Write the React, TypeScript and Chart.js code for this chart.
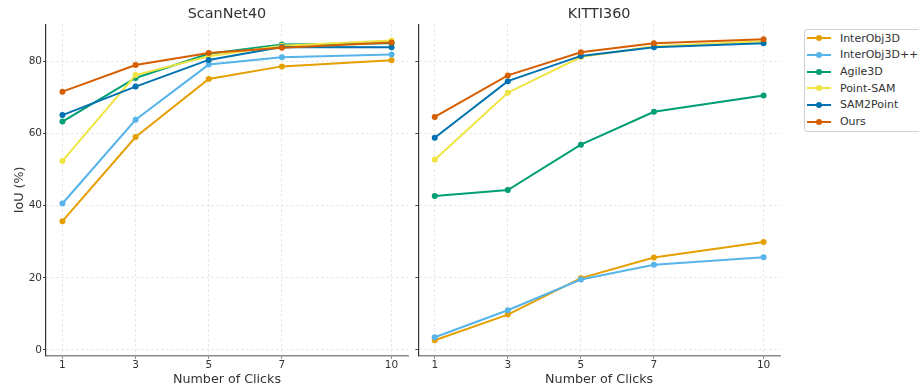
import React, { useEffect, useRef } from "react";
import { Chart, registerables } from "chart.js";

Chart.register(...registerables);

const FONT = "'DejaVu Sans', sans-serif";

const clicks = [1, 3, 5, 7, 10];
const yTickValues = [0, 20, 40, 60, 80];
const panelTitles = ["ScanNet40", "KITTI360"];
const seriesNames = ["InterObj3D", "InterObj3D++", "Agile3D", "Point-SAM", "SAM2Point", "Ours"];
const seriesColors = ["#E69F00", "#56B4E9", "#009E73", "#F0E442", "#0072B2", "#D55E00"];

// ScanNet40
const scanInterObj3D = [35.7, 59.0, 75.1, 78.6, 80.3];
const scanInterObj3DPP = [40.6, 63.8, 79.1, 81.1, 81.9];
const scanAgile3D = [63.3, 75.4, 82.1, 84.7, 85.0];
const scanPointSAM = [52.4, 76.2, 81.4, 84.3, 85.8];
const scanSAM2Point = [65.1, 73.0, 80.4, 84.0, 83.9];
const scanOurs = [71.6, 79.0, 82.3, 83.8, 85.2];

// KITTI360
const kittiInterObj3D = [2.7, 9.8, 19.9, 25.6, 29.9];
const kittiInterObj3DPP = [3.5, 11.0, 19.5, 23.6, 25.7];
const kittiAgile3D = [42.7, 44.3, 56.9, 66.0, 70.5];
const kittiPointSAM = [52.7, 71.3, 81.2, 84.2, 85.6];
const kittiSAM2Point = [58.8, 74.5, 81.5, 83.9, 85.0];
const kittiOurs = [64.6, 76.1, 82.5, 85.0, 86.1];

const scanSeries = [scanInterObj3D, scanInterObj3DPP, scanAgile3D, scanPointSAM, scanSAM2Point, scanOurs];
const kittiSeries = [kittiInterObj3D, kittiInterObj3DPP, kittiAgile3D, kittiPointSAM, kittiSAM2Point, kittiOurs];

function buildDatasets(series: number[][]) {
  return series.map((vals, i) => ({
    label: seriesNames[i],
    data: vals.map((v, j) => ({ x: clicks[j], y: v })),
    borderColor: seriesColors[i],
    backgroundColor: seriesColors[i],
    pointBackgroundColor: seriesColors[i],
    pointBorderColor: seriesColors[i],
    pointBorderWidth: 0,
    pointRadius: 3,
    borderWidth: 2,
    tension: 0,
    order: series.length - i,
  }));
}

function buildOptions(title: string, isLeft: boolean, yAxisWidth: number, rightPad: number): any {
  return {
    responsive: false,
    animation: false,
    events: [],
    layout: { padding: { left: 0, right: rightPad, top: 0, bottom: 0 } },
    plugins: {
      legend: { display: false },
      tooltip: { enabled: false },
      title: {
        display: true,
        text: title,
        fullSize: false,
        color: "#333333",
        font: { family: FONT, size: 14.4, weight: "normal", lineHeight: 1.2 },
        padding: { top: 5.6, bottom: 1.3 },
      },
    },
    scales: {
      x: {
        type: "linear",
        min: 0.55,
        max: 10.45,
        afterBuildTicks: (s: any) => {
          s.ticks = clicks.map((v) => ({ value: v }));
        },
        afterFit: (s: any) => {
          s.height = 36.3;
        },
        ticks: {
          color: "#333333",
          font: { family: FONT, size: 10.5, lineHeight: 1 },
          padding: 1,
          maxRotation: 0,
          autoSkip: false,
        },
        grid: {
          color: "#dddddd",
          lineWidth: 0.8,
          drawTicks: true,
          tickLength: 3,
          tickColor: "#777777",
          tickWidth: 1,
        },
        border: { display: true, color: "#8a8a8a", width: 1.6, dash: [2.5, 2.5] },
        title: {
          display: true,
          text: "Number of Clicks",
          color: "#333333",
          font: { family: FONT, size: 12.7, lineHeight: 1.2 },
          padding: { top: 0, bottom: 5 },
        },
      },
      y: {
        type: "linear",
        min: -1.6,
        max: 90.3,
        afterBuildTicks: (s: any) => {
          s.ticks = yTickValues.map((v) => ({ value: v }));
        },
        afterFit: (s: any) => {
          s.width = yAxisWidth;
        },
        ticks: {
          display: isLeft,
          color: "#333333",
          font: { family: FONT, size: 10.5, lineHeight: 1 },
          padding: 1,
        },
        grid: {
          color: "#dddddd",
          lineWidth: 0.8,
          drawTicks: true,
          tickLength: 3,
          tickColor: "#444444",
          tickWidth: 1,
        },
        border: { display: true, color: "#333333", width: 1.2, dash: [2.5, 2.5] },
        title: {
          display: isLeft,
          text: "IoU (%)",
          color: "#333333",
          font: { family: FONT, size: 12.7, lineHeight: 1.2 },
          padding: { top: 12, bottom: 0 },
        },
      },
    },
  };
}

function LegendBox() {
  return (
    <div
      style={{
        position: "absolute",
        left: 804,
        top: 29,
        width: 125,
        border: "1px solid #d0d0d0",
        borderRadius: 3,
        background: "#ffffff",
        paddingBottom: 1.5,
        fontFamily: FONT,
        fontSize: 11,
        color: "#333333",
      }}
    >
      {seriesNames.map((name, i) => (
        <div key={name} style={{ height: 16.67, display: "flex", alignItems: "center", whiteSpace: "nowrap" }}>
          <svg width={24} height={8} style={{ marginLeft: 2.3, marginRight: 8.6, flex: "none" }}>
            <line x1={0} y1={4} x2={24} y2={4} stroke={seriesColors[i]} strokeWidth={2} />
            <circle cx={12} cy={4} r={3} fill={seriesColors[i]} />
          </svg>
          <span>{name}</span>
        </div>
      ))}
    </div>
  );
}

export default function App() {
  const leftRef = useRef<HTMLCanvasElement | null>(null);
  const rightRef = useRef<HTMLCanvasElement | null>(null);

  useEffect(() => {
    const charts: Chart[] = [];
    if (leftRef.current) {
      charts.push(
        new Chart(leftRef.current, {
          type: "line",
          data: { datasets: buildDatasets(scanSeries) as any },
          options: buildOptions(panelTitles[0], true, 46, 6),
        })
      );
    }
    if (rightRef.current) {
      charts.push(
        new Chart(rightRef.current, {
          type: "line",
          data: { datasets: buildDatasets(kittiSeries) as any },
          options: buildOptions(panelTitles[1], false, 8.3, 5),
        })
      );
    }
    return () => charts.forEach((c) => c.destroy());
  }, []);

  return (
    <div
      style={{
        position: "fixed",
        left: 0,
        top: 0,
        width: 919,
        height: 392,
        overflow: "hidden",
        background: "#ffffff",
      }}
    >
      <canvas
        ref={leftRef}
        width={414}
        height={392}
        style={{ position: "absolute", left: 0, top: 0, width: 414, height: 392 }}
      />
      <canvas
        ref={rightRef}
        width={375}
        height={392}
        style={{ position: "absolute", left: 410, top: 0, width: 375, height: 392 }}
      />
      <LegendBox />
    </div>
  );
}
